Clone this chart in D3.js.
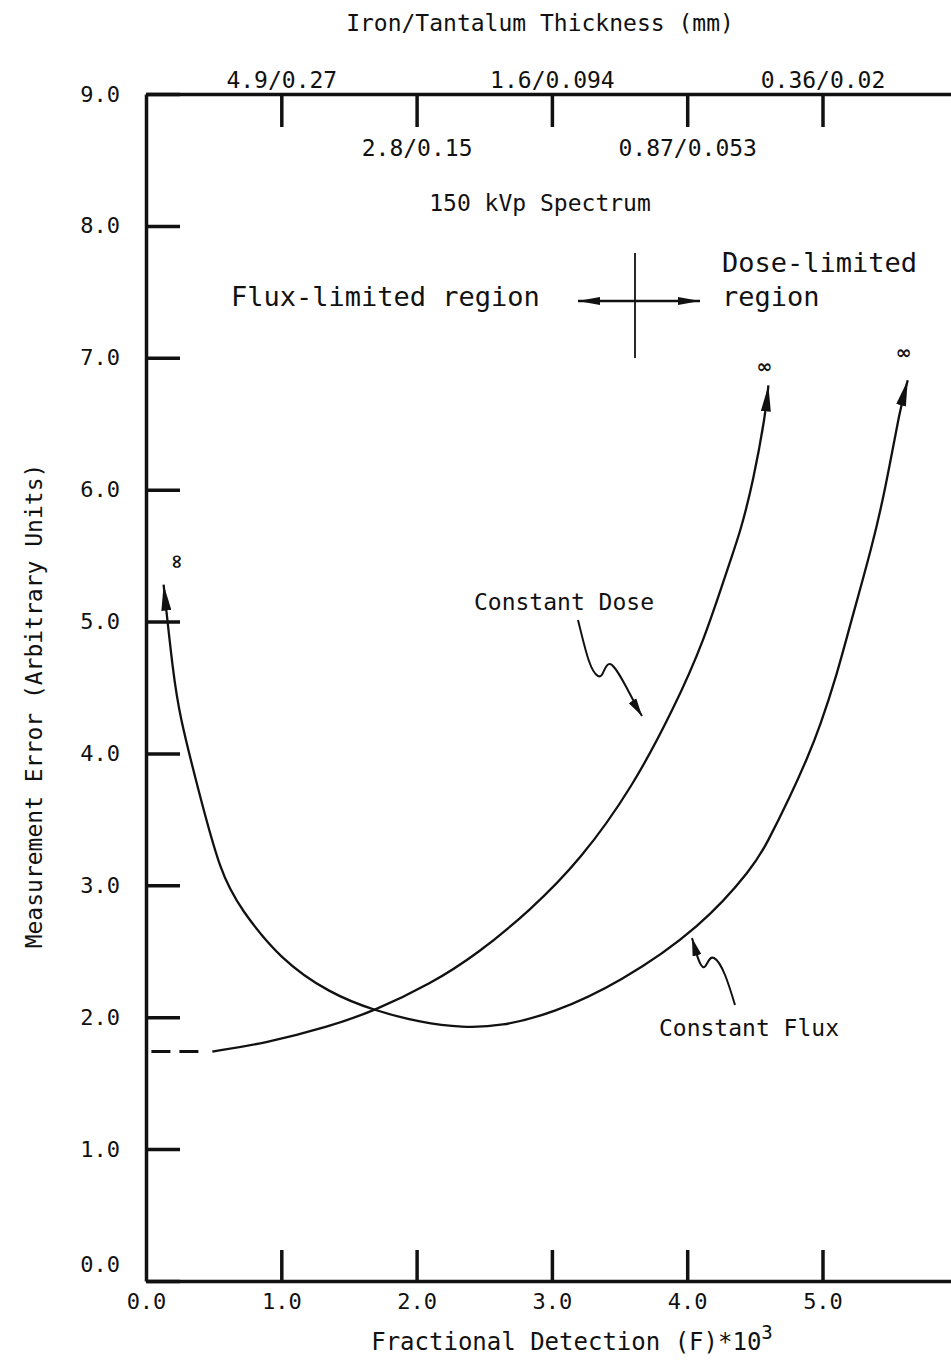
<!DOCTYPE html>
<html>
<head>
<meta charset="utf-8">
<script src="https://cdn.jsdelivr.net/npm/d3@7"></script>
<style>
  html, body { margin: 0; padding: 0; background: #fff; }
  svg { display: block; }
  text { font-family: "DejaVu Sans Mono", "Liberation Mono", monospace; fill: #111; }
</style>
</head>
<body>
<svg id="chart" width="951" height="1360"></svg>
<script>
// ---- data ----
const fractionTicks = [0, 1, 2, 3, 4, 5];
const errorTicks = [0, 1, 2, 3, 4, 5, 6, 7, 8, 9];
const thicknessTicks = [1, 2, 3, 4, 5];
const thicknessLabels = ["4.9/0.27", "2.8/0.15", "1.6/0.094", "0.87/0.053", "0.36/0.02"];

// Constant flux curve: fractional detection (F*10^3) vs measurement error
const fluxF =     [0.13, 0.20, 0.25, 0.38, 0.55, 0.70, 0.99, 1.36, 1.69, 2.03, 2.34, 2.62, 3.01, 3.50, 4.10, 4.49, 4.59, 4.76, 4.89, 4.98, 5.11, 5.20, 5.37, 5.47, 5.57, 5.63];
const fluxError = [5.28, 4.61, 4.28, 3.75, 3.09, 2.82, 2.44, 2.18, 2.05, 1.96, 1.92, 1.93, 2.03, 2.26, 2.68, 3.14, 3.32, 3.67, 3.97, 4.20, 4.61, 4.96, 5.58, 6.03, 6.60, 6.83];

// Constant dose curve
const doseF =     [0.49, 0.87, 1.36, 1.69, 2.10, 2.45, 2.84, 3.21, 3.60, 3.90, 4.12, 4.32, 4.39, 4.49, 4.58, 4.60];
const doseError = [1.74, 1.80, 1.93, 2.05, 2.25, 2.48, 2.81, 3.19, 3.75, 4.34, 4.84, 5.47, 5.67, 6.07, 6.58, 6.79];

// Dashed extrapolation of the constant dose curve toward F = 0
const doseExtrapF =     [0.04, 0.39];
const doseExtrapError = [1.74, 1.74];

// ---- layout ----
const W = 951, H = 1360;
const ink = "#111";
const x = d3.scaleLinear().domain([0, 6]).range([146, 957.8]);
const y = d3.scaleLinear().domain([0, 9]).range([1281, 94]);

const svg = d3.select("#chart");
svg.append("rect").attr("width", W).attr("height", H).attr("fill", "#fff");

const defs = svg.append("defs");
function arrowMarker(id, len, half) {
  defs.append("marker")
    .attr("id", id)
    .attr("viewBox", `0 ${-half} ${len} ${2 * half}`)
    .attr("refX", len).attr("refY", 0)
    .attr("markerUnits", "userSpaceOnUse")
    .attr("markerWidth", len).attr("markerHeight", 2 * half)
    .attr("orient", "auto-start-reverse")
    .append("path")
    .attr("d", `M0,${-half}L${len},0L0,${half}Z`)
    .attr("fill", ink);
}
arrowMarker("curveHead", 26, 5);
arrowMarker("noteHead", 18, 4.5);
arrowMarker("regionHead", 22, 4);

function styleAxis(g, size) {
  g.attr("font-size", size);
  g.select(".domain").attr("stroke", ink).attr("stroke-width", 3.5);
  g.selectAll(".tick line").attr("stroke", ink).attr("stroke-width", 3.5);
  g.selectAll(".tick text").attr("font-size", size);
}

// left axis: measurement error
const gLeft = svg.append("g")
  .attr("transform", `translate(${x(0)},0)`)
  .call(d3.axisLeft(y).tickValues(errorTicks).tickFormat(d3.format(".1f"))
    .tickSizeInner(-34).tickSizeOuter(0).tickPadding(26));
styleAxis(gLeft, 22);
gLeft.selectAll(".tick").filter(d => d === 0).select("text").attr("dy", "-0.45em");

// bottom axis: fractional detection
const gBottom = svg.append("g")
  .attr("transform", `translate(0,${y(0)})`)
  .call(d3.axisBottom(x).tickValues(fractionTicks).tickFormat(d3.format(".1f"))
    .tickSizeInner(-31).tickSizeOuter(0).tickPadding(12));
styleAxis(gBottom, 22);
gBottom.selectAll(".tick").filter(d => d === 0).select("line").remove();

// top axis: iron/tantalum thickness, labels alternate above and below
const gTop = svg.append("g")
  .attr("transform", `translate(0,${y(9)})`)
  .call(d3.axisTop(x).tickValues(thicknessTicks).tickFormat((d, i) => thicknessLabels[i])
    .tickSizeInner(-33).tickSizeOuter(0).tickPadding(6));
styleAxis(gTop, 23);
gTop.selectAll(".tick").filter((d, i) => i % 2 === 1).select("text").attr("y", 62).attr("dy", "0");

// ---- curves ----
const line = d3.line()
  .x(d => x(d[0])).y(d => y(d[1]))
  .curve(d3.curveBasis);

const flux = fluxF.map((f, i) => [f, fluxError[i]]);
const dose = doseF.map((f, i) => [f, doseError[i]]);
const doseExtrap = doseExtrapF.map((f, i) => [f, doseExtrapError[i]]);

svg.append("path").datum(flux).attr("d", line)
  .attr("fill", "none").attr("stroke", ink).attr("stroke-width", 2.3)
  .attr("marker-start", "url(#curveHead)").attr("marker-end", "url(#curveHead)");

svg.append("path").datum(dose).attr("d", line)
  .attr("fill", "none").attr("stroke", ink).attr("stroke-width", 2.3)
  .attr("marker-end", "url(#curveHead)");

svg.append("path").datum(doseExtrap).attr("d", d3.line().x(d => x(d[0])).y(d => y(d[1])))
  .attr("fill", "none").attr("stroke", ink).attr("stroke-width", 3)
  .attr("stroke-dasharray", "19,9");

// infinity marks beyond the curve ends
function infinity(px, py, rot) {
  svg.append("text")
    .attr("transform", `translate(${px},${py}) rotate(${rot})`)
    .attr("text-anchor", "middle").attr("dominant-baseline", "central")
    .style("font-family", "'DejaVu Sans', sans-serif")
    .attr("font-weight", "bold").attr("font-size", 19)
    .text("\u221E");
}
const fluxStart = flux[0], fluxEnd = flux[flux.length - 1], doseEnd = dose[dose.length - 1];
infinity(x(fluxStart[0]) + 14, y(fluxStart[1]) - 23, 90);
infinity(x(doseEnd[0]) - 4, y(doseEnd[1]) - 19, 0);
infinity(x(fluxEnd[0]) - 4, y(fluxEnd[1]) - 28, 0);

// ---- titles and annotations ----
function label(txt, px, py, size, anchor) {
  return svg.append("text").attr("x", px).attr("y", py)
    .attr("font-size", size).attr("text-anchor", anchor || "middle").text(txt);
}
label("Iron/Tantalum Thickness (mm)", 540, 31, 23);
label("150 kVp Spectrum", 540, 211, 23);
label("Flux-limited region", 231, 306, 27, "start");
label("Dose-limited", 722, 272, 27, "start");
label("region", 722, 306, 27, "start");
label("Constant Dose", 564, 610, 23);
label("Constant Flux", 749, 1036, 23);

// region divider with double arrow
svg.append("line").attr("x1", 635).attr("x2", 635).attr("y1", 253).attr("y2", 358)
  .attr("stroke", ink).attr("stroke-width", 1.8);
svg.append("line").attr("x1", 578).attr("x2", 700).attr("y1", 301).attr("y2", 301)
  .attr("stroke", ink).attr("stroke-width", 2.5)
  .attr("marker-start", "url(#regionHead)").attr("marker-end", "url(#regionHead)");

// squiggle pointers from curve names to curves
svg.append("path")
  .attr("d", "M578,620 C585,648 590,672 598,676 C604,679 604,663 610,664 C617,665 632,700 642,716")
  .attr("fill", "none").attr("stroke", ink).attr("stroke-width", 2)
  .attr("marker-end", "url(#noteHead)");
svg.append("path")
  .attr("d", "M735,1005 C729,985 722,962 714,958 C708,955 707,969 703,967 C699,965 696,952 692,938")
  .attr("fill", "none").attr("stroke", ink).attr("stroke-width", 2)
  .attr("marker-end", "url(#noteHead)");

// axis titles
svg.append("text")
  .attr("transform", "translate(34,706) rotate(-90)")
  .attr("text-anchor", "middle").attr("dominant-baseline", "central")
  .attr("font-size", 23)
  .text("Measurement Error (Arbitrary Units)");

const xt = svg.append("text").attr("x", 572).attr("y", 1350)
  .attr("text-anchor", "middle").attr("font-size", 24);
xt.append("tspan").text("Fractional Detection (F)*10");
xt.append("tspan").attr("dy", -11).attr("font-size", 19).text("3");
</script>
</body>
</html>
